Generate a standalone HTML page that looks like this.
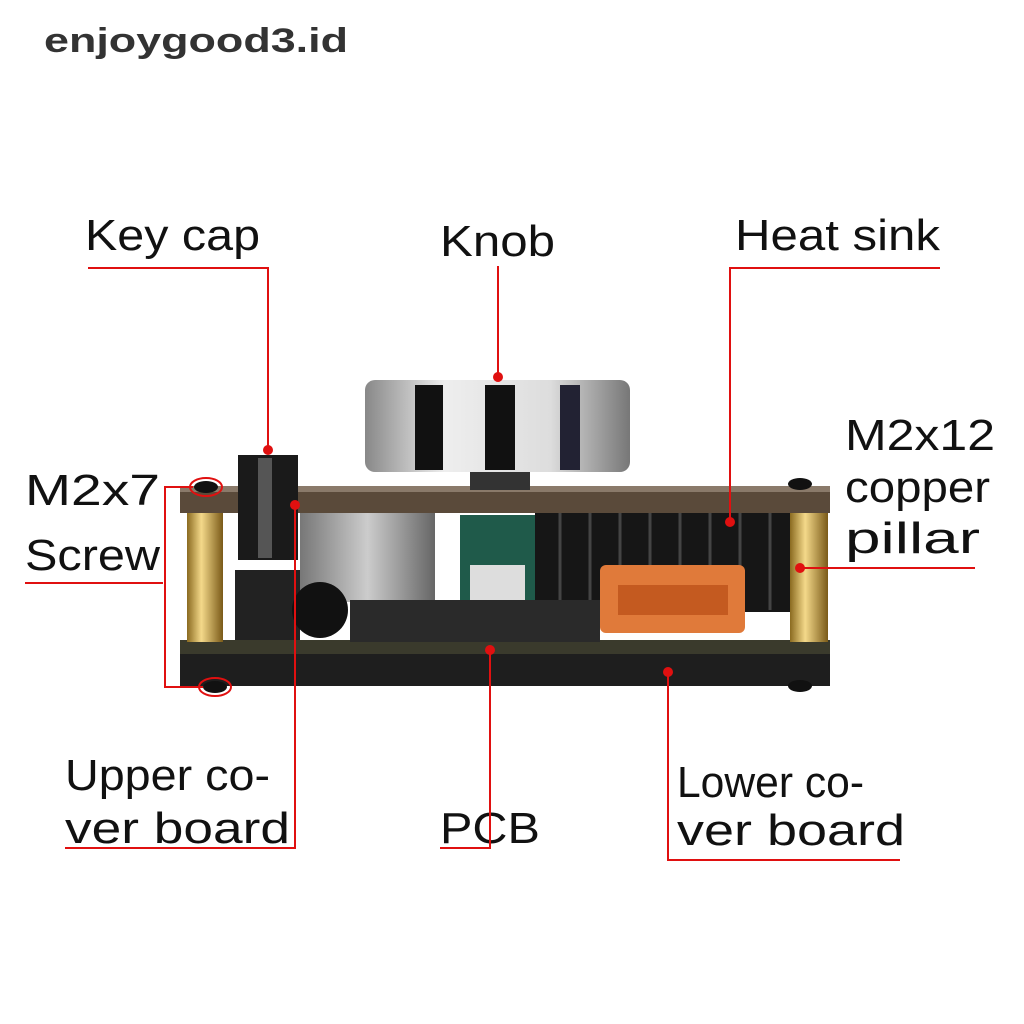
<!DOCTYPE html>
<html><head><meta charset="utf-8"><style>
html,body{margin:0;padding:0;background:#fff;}
svg{display:block}
text{font-family:"Liberation Sans",sans-serif;fill:#111}
</style></head><body>
<svg width="1024" height="1024" viewBox="0 0 1024 1024" xmlns="http://www.w3.org/2000/svg">
<rect width="1024" height="1024" fill="#fff"/>
<text x="44" y="52" font-size="34" font-weight="bold" textLength="304" lengthAdjust="spacingAndGlyphs" style="fill:#333">enjoygood3.id</text>

<defs>
<linearGradient id="gold" x1="0" x2="1"><stop offset="0" stop-color="#8a6a20"/><stop offset="0.4" stop-color="#f4d98a"/><stop offset="1" stop-color="#7a5a18"/></linearGradient>
<linearGradient id="knob" x1="0" x2="1"><stop offset="0" stop-color="#888"/><stop offset="0.3" stop-color="#eee"/><stop offset="0.7" stop-color="#ddd"/><stop offset="1" stop-color="#777"/></linearGradient>
<linearGradient id="cap" x1="0" x2="1"><stop offset="0" stop-color="#777"/><stop offset="0.5" stop-color="#ccc"/><stop offset="1" stop-color="#666"/></linearGradient>
</defs>
<rect x="180" y="648" width="650" height="38" fill="#1e1e1e"/>
<rect x="180" y="640" width="650" height="14" fill="#3a3a2c"/>
<rect x="535" y="512" width="255" height="100" fill="#161616"/>
<g stroke="#444" stroke-width="3">
<line x1="560" y1="512" x2="560" y2="610"/><line x1="590" y1="512" x2="590" y2="610"/><line x1="620" y1="512" x2="620" y2="610"/><line x1="650" y1="512" x2="650" y2="610"/><line x1="680" y1="512" x2="680" y2="610"/><line x1="710" y1="512" x2="710" y2="610"/><line x1="740" y1="512" x2="740" y2="610"/><line x1="770" y1="512" x2="770" y2="610"/></g>
<rect x="300" y="512" width="135" height="90" fill="url(#cap)"/>
<rect x="460" y="515" width="75" height="95" fill="#1f5a4a"/>
<rect x="470" y="565" width="55" height="45" fill="#ddd"/>
<rect x="235" y="570" width="65" height="70" fill="#222"/>
<circle cx="320" cy="610" r="28" fill="#111"/>
<rect x="350" y="600" width="250" height="42" fill="#2a2a2a"/>
<rect x="600" y="565" width="145" height="68" rx="6" fill="#e07a3a"/>
<rect x="618" y="585" width="110" height="30" fill="#c45a20"/>
<rect x="187" y="512" width="36" height="130" fill="url(#gold)"/>
<rect x="790" y="512" width="38" height="130" fill="url(#gold)"/>
<rect x="180" y="490" width="650" height="23" fill="#5a4a3a"/>
<rect x="180" y="486" width="650" height="6" fill="#8a7a6a"/>
<ellipse cx="206" cy="487" rx="12" ry="6" fill="#111"/>
<ellipse cx="215" cy="687" rx="12" ry="6" fill="#111"/>
<ellipse cx="800" cy="484" rx="12" ry="6" fill="#111"/>
<ellipse cx="800" cy="686" rx="12" ry="6" fill="#111"/>
<rect x="238" y="455" width="60" height="105" fill="#1a1a1a"/>
<rect x="258" y="458" width="14" height="100" fill="#555"/>
<rect x="470" y="465" width="60" height="25" fill="#333"/>
<rect x="365" y="380" width="265" height="92" rx="10" fill="url(#knob)"/>
<rect x="415" y="385" width="28" height="85" fill="#111"/>
<rect x="485" y="385" width="30" height="85" fill="#111"/>
<rect x="560" y="385" width="20" height="85" fill="#223"/>

<g font-size="44" lengthAdjust="spacingAndGlyphs">
<text x="85" y="250" textLength="175" lengthAdjust="spacingAndGlyphs">Key cap</text>
<text x="440" y="256" textLength="115" lengthAdjust="spacingAndGlyphs">Knob</text>
<text x="735" y="250" textLength="205" lengthAdjust="spacingAndGlyphs">Heat sink</text>
<text x="845" y="450" textLength="150" lengthAdjust="spacingAndGlyphs">M2x12</text>
<text x="845" y="502" textLength="145" lengthAdjust="spacingAndGlyphs">copper</text>
<text x="845" y="553" textLength="135" lengthAdjust="spacingAndGlyphs">pillar</text>
<text x="25" y="505" textLength="135" lengthAdjust="spacingAndGlyphs">M2x7</text>
<text x="25" y="570" textLength="135" lengthAdjust="spacingAndGlyphs">Screw</text>
<text x="65" y="790" textLength="205" lengthAdjust="spacingAndGlyphs">Upper co-</text>
<text x="65" y="843" textLength="225" lengthAdjust="spacingAndGlyphs">ver board</text>
<text x="440" y="843" textLength="100" lengthAdjust="spacingAndGlyphs">PCB</text>
<text x="677" y="797" textLength="187" lengthAdjust="spacingAndGlyphs">Lower co-</text>
<text x="677" y="845" textLength="228" lengthAdjust="spacingAndGlyphs">ver board</text>
</g>
<g stroke="#e01010" stroke-width="2" fill="none">
<polyline points="88,268 268,268 268,450"/>
<line x1="498" y1="266" x2="498" y2="377"/>
<polyline points="940,268 730,268 730,522"/>
<line x1="800" y1="568" x2="975" y2="568"/>
<line x1="25" y1="583" x2="163" y2="583"/>
<polyline points="193,487 165,487 165,687 203,687"/>
<ellipse cx="206" cy="487" rx="16" ry="9"/>
<ellipse cx="215" cy="687" rx="16" ry="9"/>
<polyline points="65,848 295,848 295,505"/>
<polyline points="440,848 490,848 490,650"/>
<polyline points="900,860 668,860 668,672"/>
</g>
<g fill="#e01010">
<circle cx="268" cy="450" r="5"/><circle cx="498" cy="377" r="5"/><circle cx="730" cy="522" r="5"/>
<circle cx="800" cy="568" r="5"/><circle cx="295" cy="505" r="5"/><circle cx="490" cy="650" r="5"/><circle cx="668" cy="672" r="5"/>
</g>
</svg>
</body></html>
